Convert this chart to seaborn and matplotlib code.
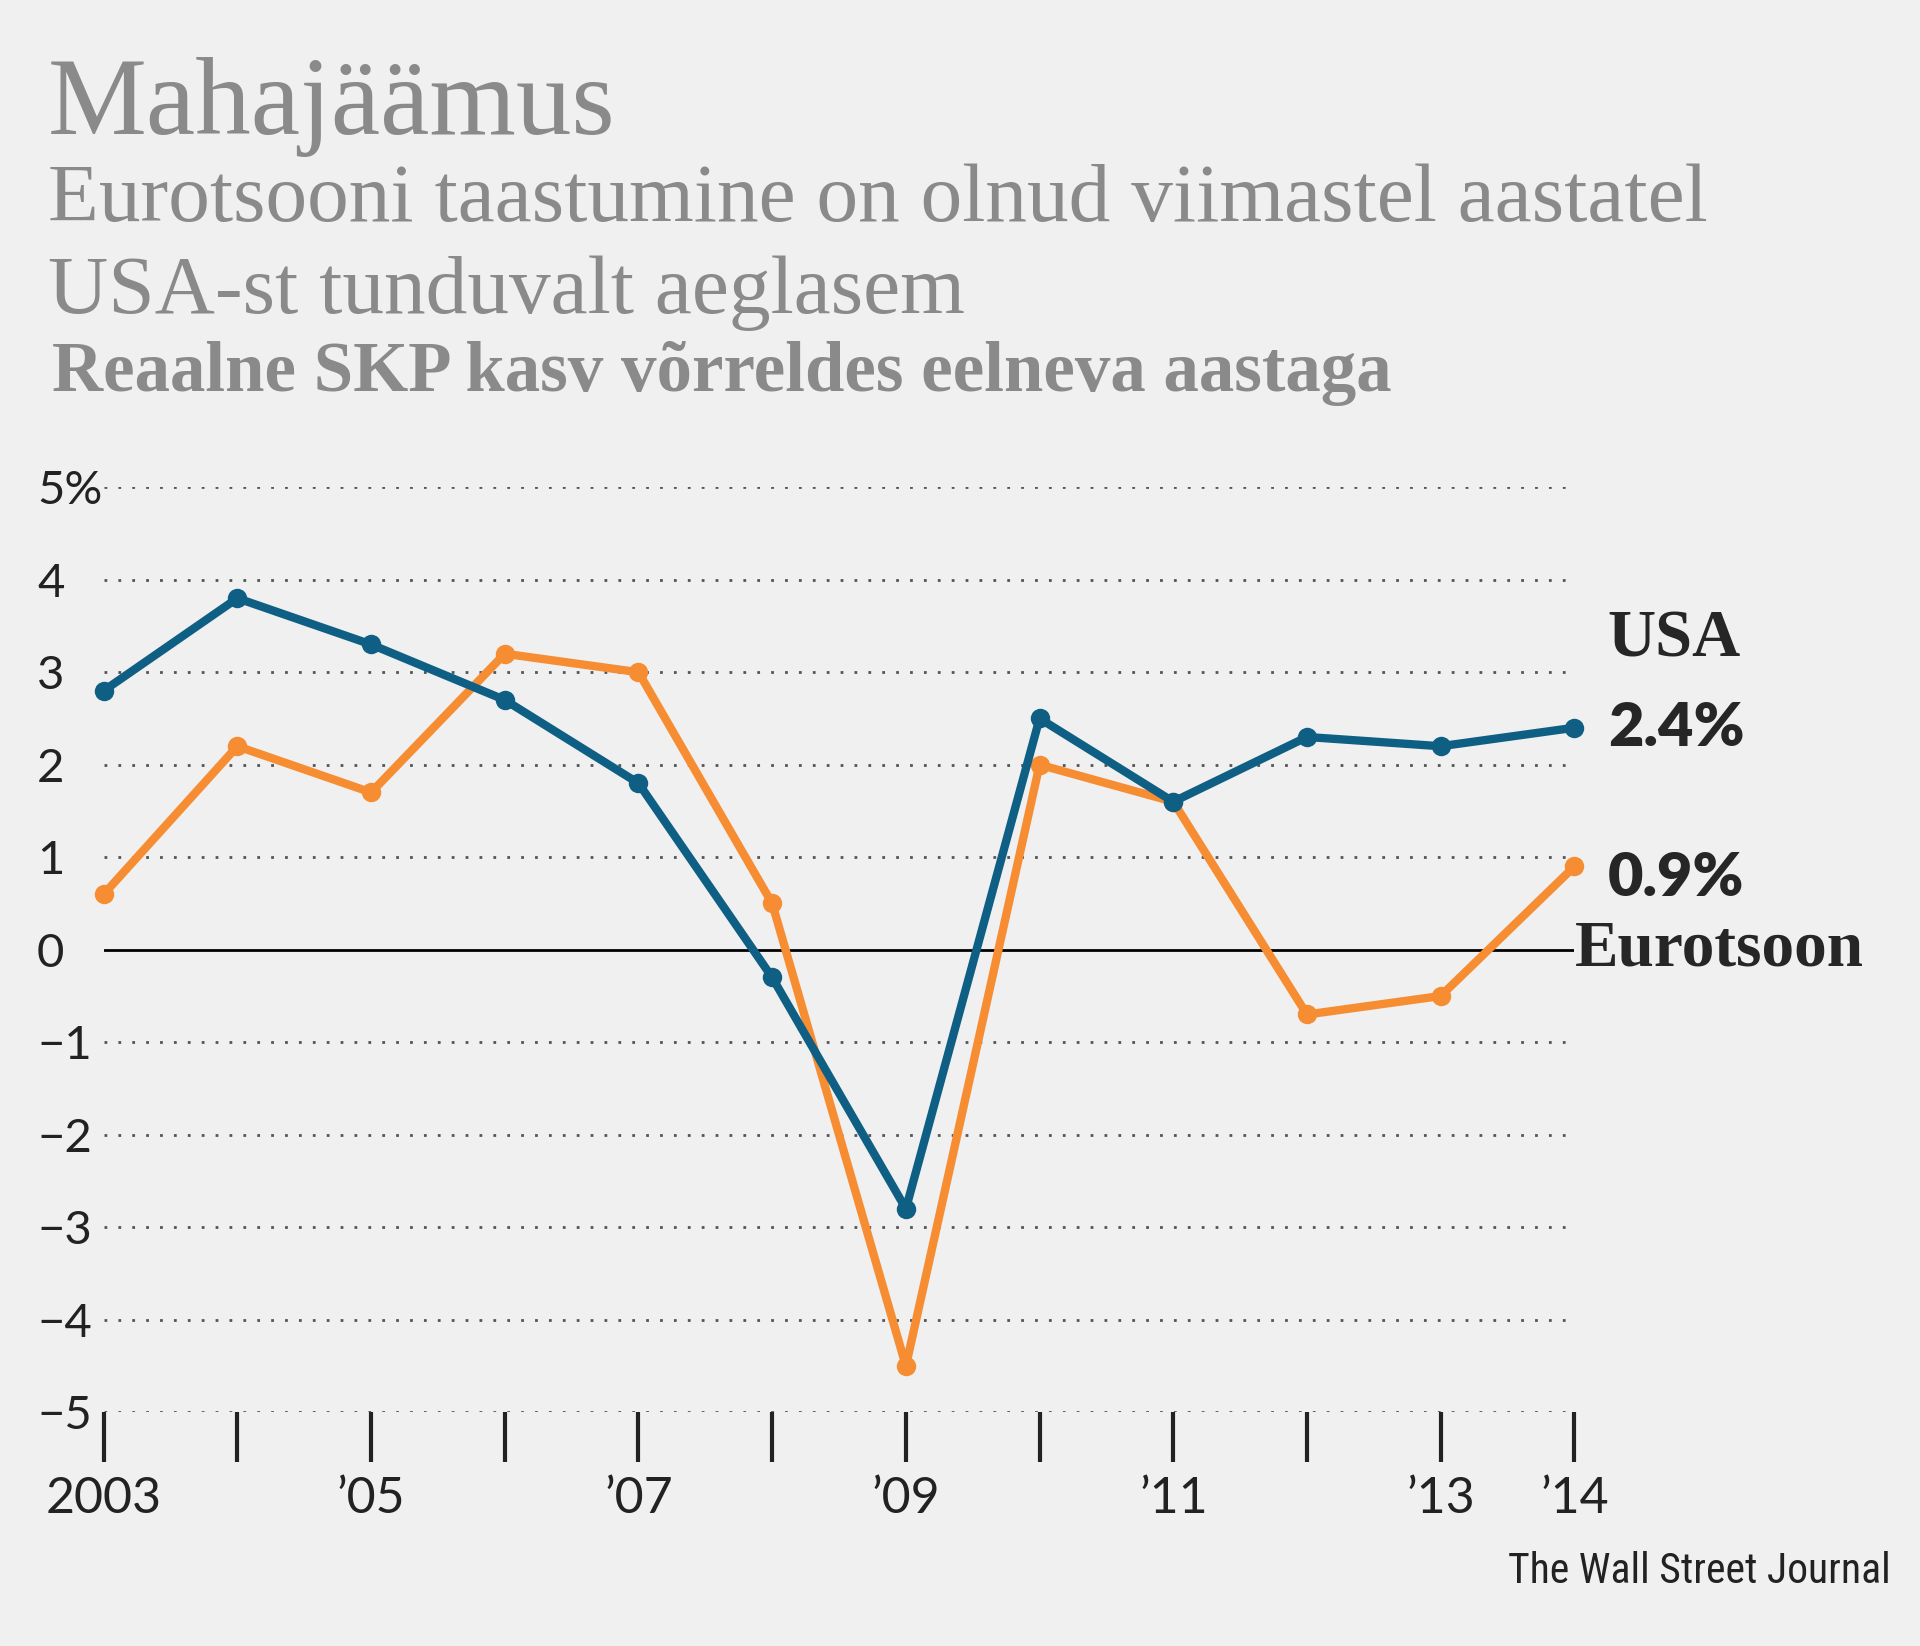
import matplotlib
matplotlib.use("Agg")
import matplotlib.pyplot as plt
import seaborn as sns
import pandas as pd

years = list(range(2003, 2015))
usa = [2.8, 3.8, 3.3, 2.7, 1.8, -0.3, -2.8, 2.5, 1.6, 2.3, 2.2, 2.4]
euro = [0.6, 2.2, 1.7, 3.2, 3.0, 0.5, -4.5, 2.0, 1.6, -0.7, -0.5, 0.9]
year_labels = {2003: "2003", 2005: "\u201905", 2007: "\u201907", 2009: "\u201909",
               2011: "\u201911", 2013: "\u201913", 2014: "\u201914"}
y_ticks = [5, 4, 3, 2, 1, 0, -1, -2, -3, -4, -5]

bg = "#f0f0f0"
blue = "#0f5f85"
orange = "#f68d32"
grey = "#8a8a8a"

sns.set_style("white")
plt.rcParams["font.family"] = ["Lato", "DejaVu Sans"]

df = pd.DataFrame({"year": years * 2, "value": usa + euro,
                   "series": ["USA"] * 12 + ["Eurotsoon"] * 12})

fig = plt.figure(figsize=(19.2, 16.46), dpi=100, facecolor=bg)
ax = fig.add_axes([0.054, 0.142, 0.766, 0.562], facecolor=bg)

for y in y_ticks:
    if y == 0:
        ax.axhline(0, color="black", lw=2, zorder=1)
    else:
        ax.axhline(y, color="#555555", lw=2, ls=(0, (1, 4)), zorder=1)

sns.lineplot(data=df, x="year", y="value", hue="series", palette={"USA": blue, "Eurotsoon": orange},
             hue_order=["Eurotsoon", "USA"], marker="o", markersize=14, markeredgewidth=0,
             lw=6, ax=ax, legend=False, zorder=3, clip_on=False)

ax.set_xlim(2003, 2014)
ax.set_ylim(-5, 5)
ax.set_xlabel("")
ax.set_ylabel("")
for s in ax.spines.values():
    s.set_visible(False)
ax.set_yticks(y_ticks)
ax.set_yticklabels(["5%"] + [str(v).replace("-", "\u2212") for v in y_ticks[1:]], fontsize=34, color="#222222")
ax.tick_params(axis="y", length=0, pad=48)
for lab in ax.get_yticklabels():
    lab.set_horizontalalignment("left")
ax.set_xticks(years)
ax.set_xticklabels([year_labels.get(y, "") for y in years], fontsize=36, color="#222222")
ax.tick_params(axis="x", bottom=True, direction="out", length=36, width=3, color="#222222", pad=10)

ax.text(2014.25, 3.35, "USA", fontsize=48, fontweight="bold", family="Liberation Serif", va="center")
ax.text(2014.25, 2.4, "2.4%", fontsize=44, fontweight="heavy", va="center")
ax.text(2014.25, 0.78, "0.9%", fontsize=44, fontweight="heavy", va="center")
ax.text(2014.0, 0.0, "Eurotsoon", fontsize=47, fontweight="bold", family="Liberation Serif", va="center")

fig.text(0.025, 0.935, "Mahajäämus", fontsize=80, color=grey, family="Liberation Serif", va="center")
fig.text(0.025, 0.878, "Eurotsooni taastumine on olnud viimastel aastatel", fontsize=60, color=grey,
         family="Liberation Serif", va="center")
fig.text(0.025, 0.822, "USA-st tunduvalt aeglasem", fontsize=60, color=grey,
         family="Liberation Serif", va="center")
fig.text(0.027, 0.773, "Reaalne SKP kasv võrreldes eelneva aastaga", fontsize=51, color=grey,
         fontweight="bold", family="Liberation Serif", va="center")
fig.text(0.985, 0.045, "The Wall Street Journal", fontsize=30, color="#222222", ha="right", va="center",
         family=["Roboto Condensed", "Liberation Sans Narrow", "DejaVu Sans"])

fig.savefig("out.png", dpi=100, facecolor=bg)
